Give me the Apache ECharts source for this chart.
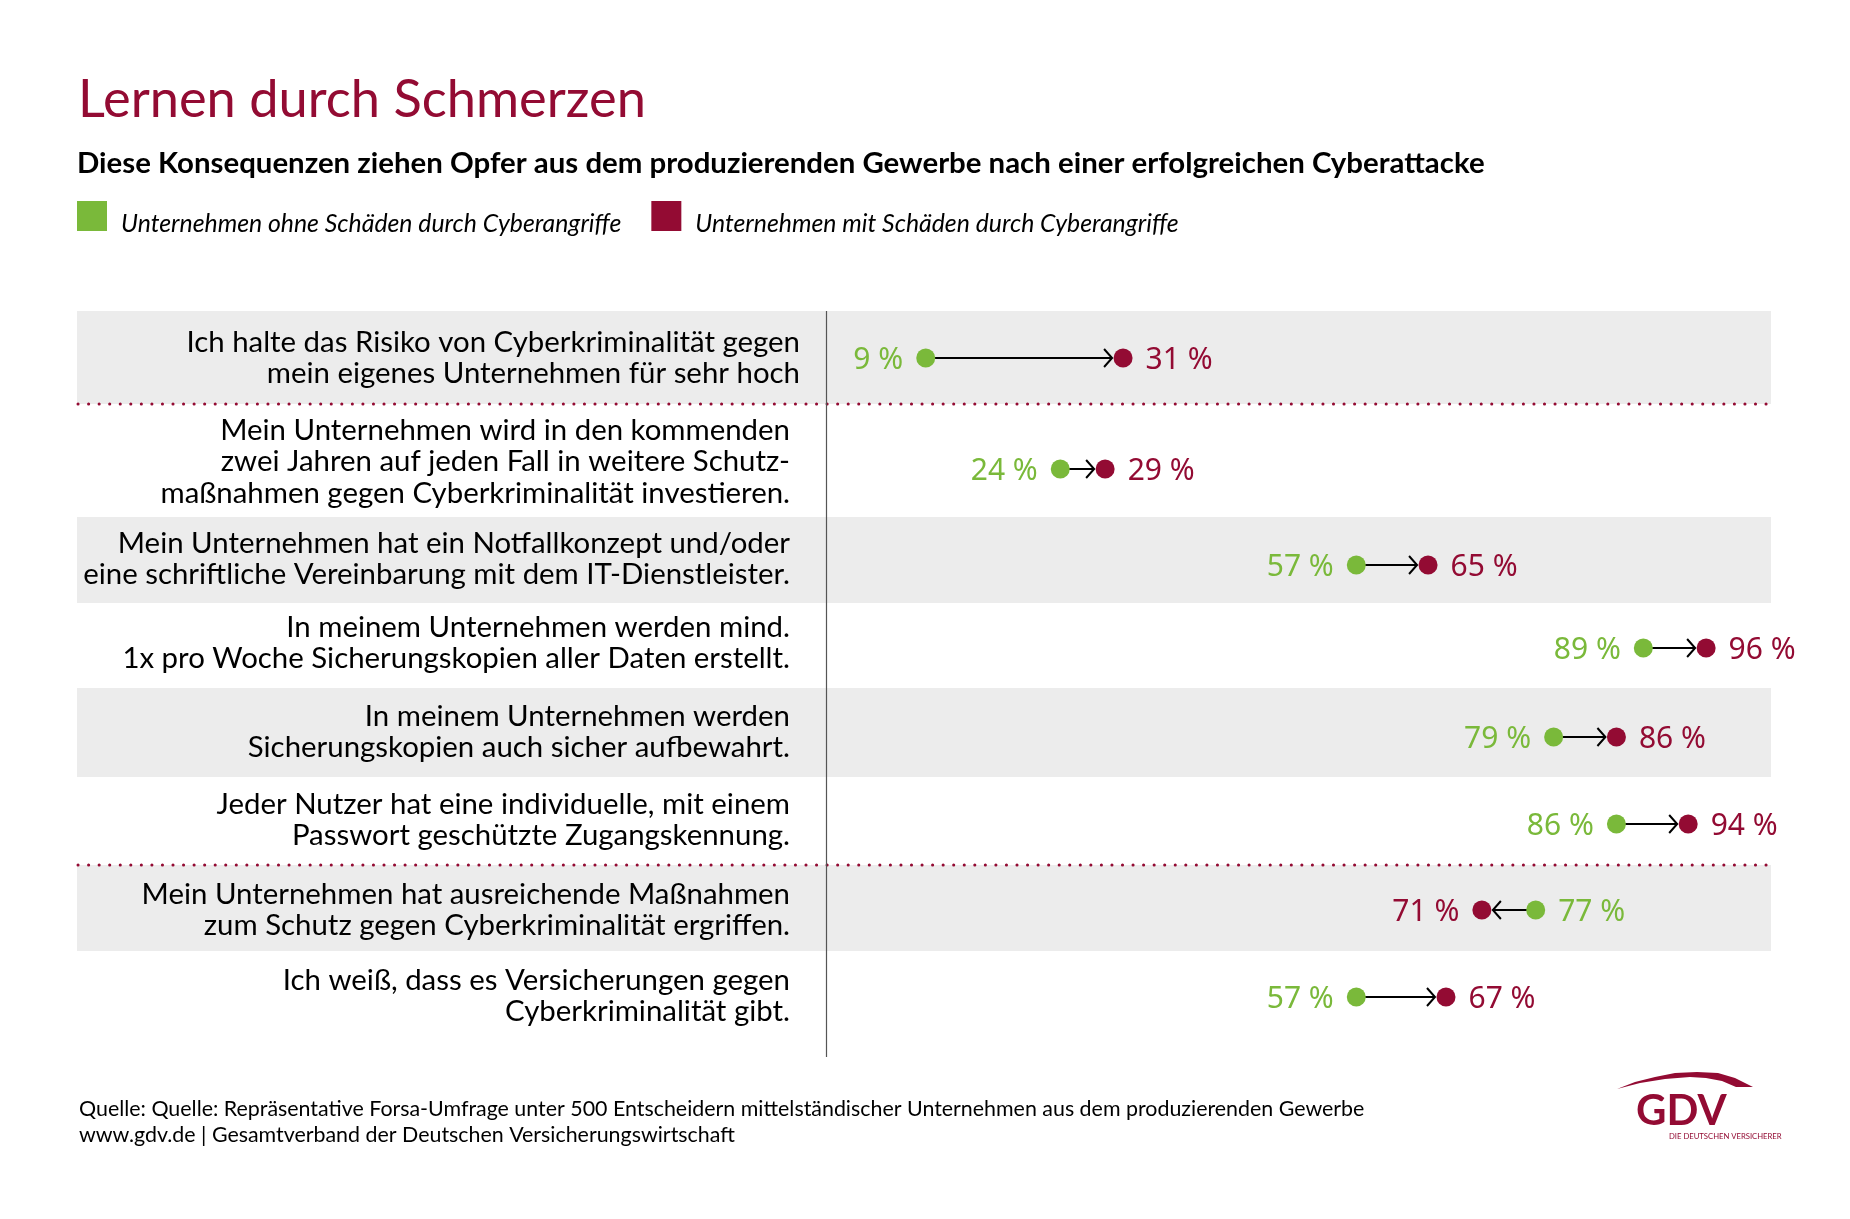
<!DOCTYPE html>
<html lang="de">

<head>
    <meta charset="UTF-8">
    <title>Lernen durch Schmerzen</title>
    <script src="https://cdn.jsdelivr.net/npm/echarts@6/dist/echarts.min.js"></script>
    <style>
        html, body { margin: 0; padding: 0; background: #fff; }
    </style>
</head>

<body>
    <div id="main" style="width: 1850px;height:1219px;"></div>
    <script>
        // data
        var statements = [
            'Ich halte das Risiko von Cyberkriminalität gegen\nmein eigenes Unternehmen für sehr hoch',
            'Mein Unternehmen wird in den kommenden\nzwei Jahren auf jeden Fall in weitere Schutz-\nmaßnahmen gegen Cyberkriminalität investieren.',
            'Mein Unternehmen hat ein Notfallkonzept und/oder\neine schriftliche Vereinbarung mit dem IT-Dienstleister.',
            'In meinem Unternehmen werden mind.\n1x pro Woche Sicherungskopien aller Daten erstellt.',
            'In meinem Unternehmen werden\nSicherungskopien auch sicher aufbewahrt.',
            'Jeder Nutzer hat eine individuelle, mit einem\nPasswort geschützte Zugangskennung.',
            'Mein Unternehmen hat ausreichende Maßnahmen\nzum Schutz gegen Cyberkriminalität ergriffen.',
            'Ich weiß, dass es Versicherungen gegen\nCyberkriminalität gibt.'
        ];
        var withoutDamage = [9, 24, 57, 89, 79, 86, 77, 57];
        var withDamage = [31, 29, 65, 96, 86, 94, 71, 67];

        var withoutName = 'Unternehmen ohne Schäden durch Cyberangriffe';
        var withName = 'Unternehmen mit Schäden durch Cyberangriffe';

        // layout of the rows, in pixels
        var rowTops = [311, 404, 517, 603, 688, 777, 865, 951];
        var rowBottom = 1057;
        var rowCentres = [358, 469, 565, 648, 737, 824, 910, 997];
        var labelLift = [0, 7, 6, 5, 5, 4, 0, 1];
        var labelMargin = [45, 55, 55, 55, 55, 55, 55, 55];
        var lineStep = 31.5;
        var shadedRows = [0, 2, 4, 6];
        var dottedRows = [1, 6];

        var red = '#930b33';
        var green = '#7ab93a';
        var dotSize = 19;
        var sans = 'Lato, "Noto Sans", sans-serif';
        var numbers = '"Noto Sans", sans-serif';

        function pct(v) {
            return v + ' %';
        }

        var grids = [], xAxes = [], yAxes = [], series = [], shapes = [];

        statements.forEach(function (text, i) {
            var g = withoutDamage[i], r = withDamage[i];
            var lift = labelLift[i];
            grids.push({ left: 845, width: 897, top: rowCentres[i] - 30, height: 60 });
            xAxes.push({ gridIndex: i, type: 'value', min: 0, max: 100, show: false });
            yAxes.push({
                gridIndex: i,
                type: 'category',
                data: [text],
                axisLine: { show: false },
                axisTick: { show: false },
                axisLabel: {
                    margin: labelMargin[i],
                    color: '#000',
                    fontFamily: sans,
                    fontSize: 29.4,
                    lineHeight: lineStep,
                    // an empty last line of height 2*lift sets the block a little above the dot
                    formatter: function (v) {
                        return lift ? v + '\n{gap| }' : v;
                    },
                    rich: {
                        gap: { fontSize: 1, height: lift * 2, lineHeight: lift * 2 }
                    }
                }
            });
            // arrow from the green dot to the red one
            series.push({
                type: 'custom',
                xAxisIndex: i,
                yAxisIndex: i,
                silent: true,
                z: 2,
                data: [[g, 0, r]],
                encode: { x: 0, y: 1 },
                renderItem: function (params, api) {
                    var a = api.coord([api.value(0), 0]);
                    var b = api.coord([api.value(2), 0]);
                    var dir = b[0] > a[0] ? 1 : -1;
                    var tip = b[0] - dir * 11;
                    var style = { stroke: '#000', lineWidth: 2, fill: null };
                    return {
                        type: 'group',
                        children: [
                            { type: 'line', shape: { x1: a[0], y1: a[1], x2: tip, y2: a[1] }, style: style },
                            {
                                type: 'polyline',
                                shape: { points: [[tip - dir * 8, a[1] - 9], [tip, a[1]], [tip - dir * 8, a[1] + 9]] },
                                style: style
                            }
                        ]
                    };
                }
            });
            series.push({
                type: 'scatter',
                name: withoutName,
                xAxisIndex: i,
                yAxisIndex: i,
                z: 3,
                symbolSize: dotSize,
                itemStyle: { color: green, opacity: 1 },
                data: [[g, 0]],
                label: {
                    show: true,
                    position: g < r ? 'left' : 'right',
                    distance: 13,
                    offset: [0, 2],
                    color: green,
                    fontFamily: numbers,
                    fontSize: 30,
                    formatter: pct(g)
                }
            });
            series.push({
                type: 'scatter',
                name: withName,
                xAxisIndex: i,
                yAxisIndex: i,
                z: 3,
                symbolSize: dotSize,
                itemStyle: { color: red, opacity: 1 },
                data: [[r, 0]],
                label: {
                    show: true,
                    position: g < r ? 'right' : 'left',
                    distance: 13,
                    offset: [0, 2],
                    color: red,
                    fontFamily: numbers,
                    fontSize: 30,
                    formatter: pct(r)
                }
            });
        });

        // grey bands, dotted rules and the vertical line
        shadedRows.forEach(function (i) {
            shapes.push({
                type: 'rect', z: -2,
                shape: { x: 77, y: rowTops[i], width: 1694, height: rowTops[i + 1] - rowTops[i] },
                style: { fill: '#ececec' }
            });
        });
        dottedRows.forEach(function (i) {
            shapes.push({
                type: 'line', z: -1,
                shape: { x1: 78, y1: rowTops[i], x2: 1771, y2: rowTops[i] },
                style: { stroke: red, lineWidth: 3, lineCap: 'round', lineDash: [0.1, 10.45] }
            });
        });
        shapes.push({
            type: 'line', z: -1,
            shape: { x1: 826.5, y1: rowTops[0], x2: 826.5, y2: rowBottom },
            style: { stroke: '#555', lineWidth: 1.2 }
        });

        // footer
        shapes.push({
            type: 'text', x: 79, y: 1096,
            style: {
                text: 'Quelle: Quelle: Repräsentative Forsa-Umfrage unter 500 Entscheidern mittelständischer Unternehmen aus dem produzierenden Gewerbe\nwww.gdv.de | Gesamtverband der Deutschen Versicherungswirtschaft',
                fill: '#000', font: '21.4px ' + sans, lineHeight: 26
            }
        });

        // GDV logo
        shapes.push({
            type: 'polygon',
            shape: {
                points: [[1617, 1089], [1635, 1082], [1655, 1077], [1675, 1073], [1697, 1072], [1718, 1073], [1735, 1078], [1753, 1087],
                    [1736, 1087], [1722, 1081], [1706, 1078], [1690, 1077], [1665, 1079], [1640, 1083]]
            },
            style: { fill: red }
        });
        shapes.push({
            type: 'text', x: 1636, y: 1090,
            style: { text: 'GDV', fill: red, font: '700 42px ' + sans }
        });
        shapes.push({
            type: 'text', x: 1669, y: 1133,
            style: { text: 'DIE DEUTSCHEN VERSICHERER', fill: red, font: '7.7px ' + sans }
        });

        var myChart = echarts.init(document.getElementById('main'));
        myChart.setOption({
            animation: false,
            backgroundColor: '#fff',
            title: [{
                text: 'Lernen durch Schmerzen',
                left: 78,
                top: 74,
                padding: 0,
                textStyle: { color: red, fontFamily: sans, fontWeight: 'normal', fontSize: 52.4 }
            }, {
                text: 'Diese Konsequenzen ziehen Opfer aus dem produzierenden Gewerbe nach einer erfolgreichen Cyberattacke',
                left: 77,
                top: 149,
                padding: 0,
                textStyle: { color: '#000', fontFamily: sans, fontWeight: 'bold', fontSize: 29.4 }
            }],
            legend: {
                left: 77,
                top: 201,
                padding: 0,
                icon: 'rect',
                itemWidth: 30,
                itemHeight: 30,
                itemGap: 30,
                itemStyle: { borderWidth: 0 },
                selectedMode: false,
                data: [withoutName, withName],
                formatter: '{t|{name}}',
                textStyle: {
                    rich: {
                        t: {
                            color: '#000',
                            fontFamily: sans,
                            fontStyle: 'italic',
                            fontSize: 24.8,
                            padding: [16, 0, 0, 9]
                        }
                    }
                }
            },
            grid: grids,
            xAxis: xAxes,
            yAxis: yAxes,
            series: series,
            graphic: { elements: shapes }
        });
    </script>
</body>

</html>
